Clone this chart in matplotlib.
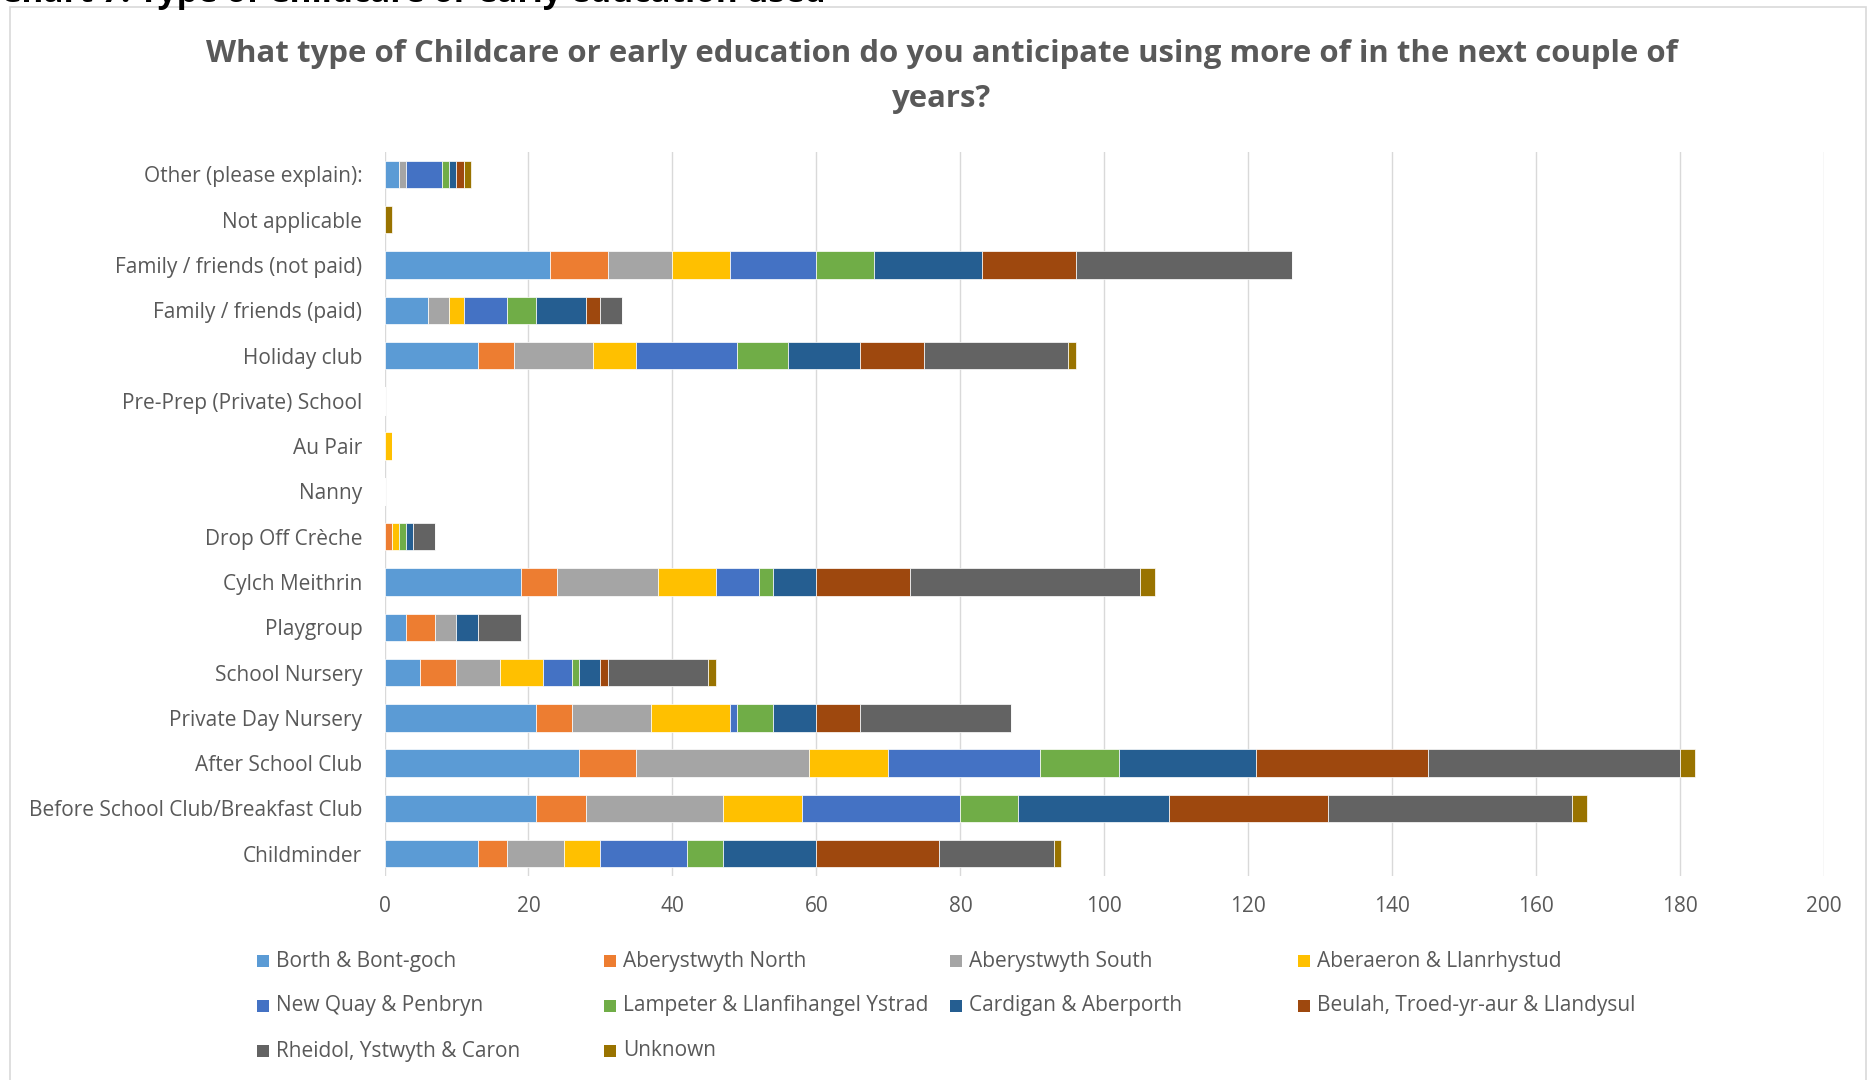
import matplotlib
matplotlib.use("Agg")
import matplotlib.pyplot as plt
from matplotlib.patches import Rectangle
import numpy as np

# ---------------- data ----------------
categories = [
    "Childminder",
    "Before School Club/Breakfast Club",
    "After School Club",
    "Private Day Nursery",
    "School Nursery",
    "Playgroup",
    "Cylch Meithrin",
    "Drop Off Crèche",
    "Nanny",
    "Au Pair",
    "Pre-Prep (Private) School",
    "Holiday club",
    "Family / friends (paid)",
    "Family / friends (not paid)",
    "Not applicable",
    "Other (please explain):",
]

series_names = [
    "Borth & Bont-goch",
    "Aberystwyth North",
    "Aberystwyth South",
    "Aberaeron & Llanrhystud",
    "New Quay & Penbryn",
    "Lampeter & Llanfihangel Ystrad",
    "Cardigan & Aberporth",
    "Beulah, Troed-yr-aur & Llandysul",
    "Rheidol, Ystwyth & Caron",
    "Unknown",
]

series_colors = ["#5B9BD5", "#ED7D31", "#A5A5A5", "#FFC000", "#4472C4",
                 "#70AD47", "#255E91", "#9E480E", "#636363", "#997300"]

# values per series, in the order of `categories`
borth       = [13, 21, 27, 21, 5, 3, 19, 0, 0, 0, 0, 13, 6, 23, 0, 2]
aber_north  = [4, 7, 8, 5, 5, 4, 5, 1, 0, 0, 0, 5, 0, 8, 0, 0]
aber_south  = [8, 19, 24, 11, 6, 3, 14, 0, 0, 0, 0, 11, 3, 9, 0, 1]
aberaeron   = [5, 11, 11, 11, 6, 0, 8, 1, 0, 1, 0, 6, 2, 8, 0, 0]
new_quay    = [12, 22, 21, 1, 4, 0, 6, 0, 0, 0, 0, 14, 6, 12, 0, 5]
lampeter    = [5, 8, 11, 5, 1, 0, 2, 1, 0, 0, 0, 7, 4, 8, 0, 1]
cardigan    = [13, 21, 19, 6, 3, 3, 6, 1, 0, 0, 0, 10, 7, 15, 0, 1]
beulah      = [17, 22, 24, 6, 1, 0, 13, 0, 0, 0, 0, 9, 2, 13, 0, 1]
rheidol     = [16, 34, 35, 21, 14, 6, 32, 3, 0, 0, 0, 20, 3, 30, 0, 0]
unknown     = [1, 2, 2, 0, 1, 0, 2, 0, 0, 0, 0, 1, 0, 0, 1, 1]

series_values = [borth, aber_north, aber_south, aberaeron, new_quay,
                 lampeter, cardigan, beulah, rheidol, unknown]

x_ticks = [0, 20, 40, 60, 80, 100, 120, 140, 160, 180, 200]

title_lines = ["What type of Childcare or early education do you anticipate using more of in the next couple of",
               "years?"]
header_text = "Chart 7: Type of Childcare or early education used"

# ---------------- figure ----------------
W, H = 1872, 1080
fig = plt.figure(figsize=(W / 100, H / 100), dpi=100)
plt.rcParams["font.family"] = ["Open Sans", "DejaVu Sans"]
text_color = "#595959"
fs = 15

# outer chart frame
fig.patches.append(Rectangle((10 / W, -0.01), (1866 - 10) / W, 1.01 - 7 / H,
                             transform=fig.transFigure, fill=False,
                             edgecolor="#d9d9d9", linewidth=1.2))

# header text above the chart frame (cut off at the top edge, as in the source)
fig.text(0 / W, 1 - 2 / H, header_text, fontsize=24, fontweight="bold",
         color="black", ha="left", va="baseline")

# title
fig.text(0.503, 1 - 54 / H, title_lines[0], fontsize=22.4, fontweight="bold",
         color=text_color, ha="center", va="center")
fig.text(0.503, 1 - 99 / H, title_lines[1], fontsize=22.4, fontweight="bold",
         color=text_color, ha="center", va="center")

ax = fig.add_axes([384.5 / W, (H - 876.4) / H, (1824.3 - 384.5) / W, (876.4 - 151.7) / H])

y = np.arange(len(categories))
left = np.zeros(len(categories))
for name, vals, col in zip(series_names, series_values, series_colors):
    v = np.array(vals, dtype=float)
    ax.barh(y, v, left=left, height=0.606, color=col, edgecolor="white",
            linewidth=0.5, label=name, zorder=3)
    left += v

ax.set_xlim(0, 200)
ax.set_ylim(-0.5, len(categories) - 0.5)
ax.set_xticks(x_ticks)
ax.set_xticklabels([str(t) for t in x_ticks])
ax.set_yticks(y)
ax.set_yticklabels(categories)
ax.tick_params(axis="both", length=0, labelsize=fs, labelcolor=text_color)
ax.tick_params(axis="y", pad=16)
ax.tick_params(axis="x", pad=14)
ax.grid(axis="x", color="#d9d9d9", linewidth=1.0, zorder=0)
ax.set_axisbelow(True)
for s in ax.spines.values():
    s.set_visible(False)

# legend (Excel style: 4 equal-width columns, row-major)
col_x = [257, 604, 950, 1298]
row_y = [961, 1006, 1051]
msize = 12
for i, (name, colr) in enumerate(zip(series_names, series_colors)):
    r, c = divmod(i, 4)
    x0 = col_x[c]
    yc = row_y[r]
    fig.patches.append(Rectangle((x0 / W, (H - yc - msize / 2) / H), msize / W, msize / H,
                                 transform=fig.transFigure, facecolor=colr,
                                 edgecolor="none"))
    fig.text((x0 + 19) / W, (H - yc) / H, name, fontsize=fs, color=text_color,
             ha="left", va="center")

fig.savefig("out.png", dpi=100)
